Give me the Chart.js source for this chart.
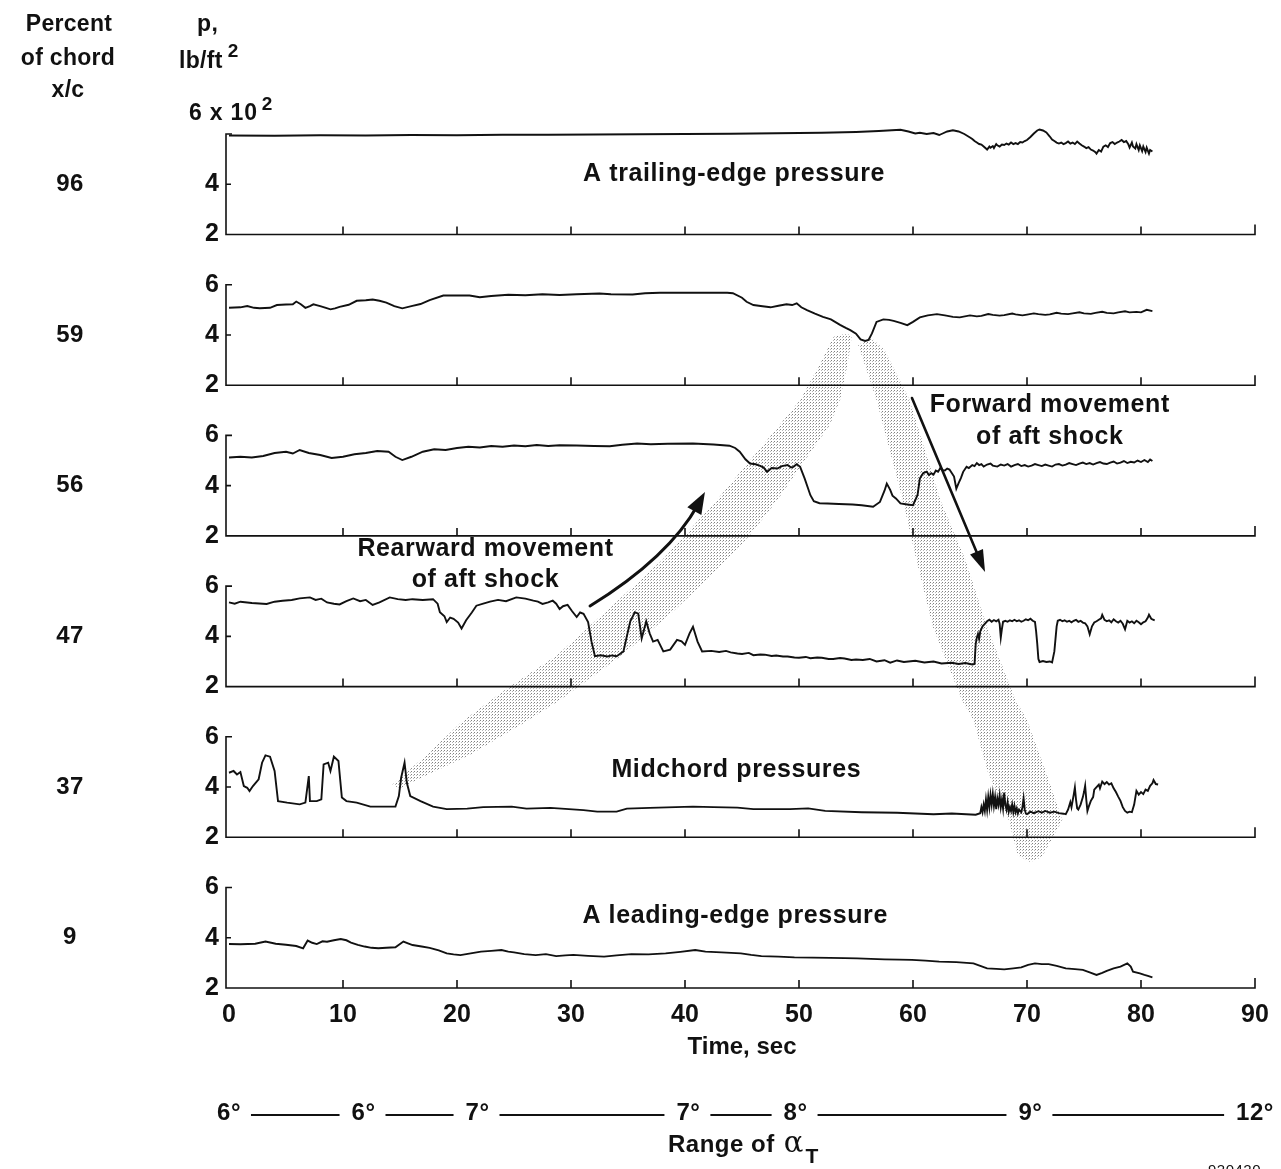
<!DOCTYPE html>
<html>
<head>
<meta charset="utf-8">
<title>Surface pressures vs time</title>
<style>
  html, body { margin: 0; padding: 0; background: #ffffff; }
  canvas { display: block; }
</style>
<script src="https://cdn.jsdelivr.net/npm/chart.js@4.4.1/dist/chart.umd.min.js"></script>
</head>
<body>
<canvas id="chart" width="1281" height="1169"></canvas>
<script>
// ---------------- data ----------------
// Pressure traces, [time in sec, p in units of 10^2 lb/ft^2], one list per chord station.
const chordStations = ['96', '59', '56', '47', '37', '9'];

const p96 = [[0,5.94],[4,5.93],[8,5.95],[12,5.94],[16,5.96],[20,5.95],[24,5.97],[28,5.97],[32,5.98],[36,5.99],[40,6.0],
  [44,6.01],[48,6.03],[52,6.05],[55,6.08],[57,6.12],[58.9,6.17],[59.6,6.1],[60.2,6.02],[60.6,6.05],[61.2,6.0],[61.8,6.04],
  [62.3,5.96],[62.6,6.02],[63.0,6.1],[63.5,6.15],[64.0,6.1],[64.5,6.0],
  [65.0,5.86],[65.2,5.8],[65.4,5.72],[65.6,5.66],[65.8,5.6],[66.0,5.58],[66.2,5.5],[66.4,5.42],[66.5,5.38],[66.7,5.5],
  [66.8,5.45],[67.0,5.52],[67.1,5.44],[67.3,5.6],[67.4,5.55],[67.6,5.5],[67.8,5.58],[68.0,5.56],[68.2,5.62],[68.4,5.58],
  [68.6,5.66],[68.8,5.6],[69.0,5.64],[69.2,5.6],[69.4,5.68],[69.6,5.66],[69.8,5.72],[70.0,5.76],[70.3,5.88],[70.6,6.02],
  [70.9,6.14],[71.1,6.18],[71.4,6.14],[71.7,6.06],[72.0,5.9],[72.2,5.78],[72.4,5.72],[72.6,5.66],[72.8,5.62],[73.0,5.66],
  [73.2,5.6],[73.4,5.64],[73.6,5.7],[73.8,5.62],[74.0,5.66],[74.2,5.6],[74.4,5.7],[74.6,5.62],[74.8,5.55],[75.0,5.5],
  [75.2,5.44],[75.4,5.48],[75.6,5.38],[75.8,5.34],[76.0,5.28],[76.1,5.22],[76.3,5.36],[76.5,5.3],[76.7,5.5],[76.9,5.55],
  [77.1,5.48],[77.3,5.64],[77.5,5.68],[77.7,5.6],[77.9,5.66],[78.1,5.7],[78.3,5.76],[78.5,5.68],[78.7,5.72],[78.9,5.58],
  [79.0,5.46],[79.2,5.66],[79.3,5.5],[79.5,5.42],[79.6,5.6],[79.8,5.36],[79.9,5.55],[80.1,5.32],[80.2,5.5],[80.4,5.28],
  [80.5,5.46],[80.7,5.22],[80.8,5.36],[81.0,5.3]];

const p59 = [[0,5.08],[1.0,5.1],[1.6,5.15],[2.2,5.08],[2.7,5.06],[3.6,5.08],[4.2,5.19],[5.0,5.21],[5.6,5.22],[5.9,5.33],
  [6.3,5.22],[6.7,5.08],[7.1,5.15],[7.4,5.22],[8.0,5.15],[8.5,5.08],[8.9,5.02],[9.3,5.06],[9.7,5.12],[10.5,5.2],[11.2,5.36],
  [12.0,5.38],[12.6,5.41],[13.2,5.36],[13.8,5.29],[14.5,5.15],[15.2,5.06],[16.0,5.15],[16.8,5.23],[17.6,5.39],[18.8,5.57],
  [20,5.57],[21.1,5.57],[22.0,5.5],[23,5.55],[24.5,5.6],[26,5.58],[27.5,5.62],[29,5.59],[30.5,5.62],[32.5,5.65],[33.5,5.62],
  [35.4,5.61],[36.5,5.66],[37.8,5.68],[40,5.68],[42,5.68],[43.7,5.68],[44.2,5.66],[45.0,5.48],[45.4,5.32],[46,5.19],
  [46.8,5.14],[47.5,5.1],[48.2,5.16],[48.9,5.22],[49.4,5.19],[49.8,5.26],[50.2,5.1],[50.7,4.99],[51.4,4.85],[52.1,4.72],
  [52.8,4.62],[53.6,4.4],[54.1,4.28],[54.5,4.19],[55.0,4.05],[55.4,3.82],[55.8,3.76],[56.1,3.8],[56.4,4.06],[56.8,4.52],
  [57.4,4.62],[57.9,4.6],[58.3,4.56],[58.9,4.48],[59.5,4.39],[60,4.52],[60.6,4.7],[61.3,4.78],[62.1,4.83],[62.8,4.78],
  [63.5,4.72],[64.1,4.7],[65,4.78],[65.6,4.74],[66,4.76],[66.6,4.83],[67,4.8],[67.6,4.77],[68,4.79],[68.7,4.85],[69,4.82],
  [69.6,4.78],[70,4.81],[70.6,4.86],[71,4.83],[71.6,4.8],[72,4.82],[72.6,4.88],[73,4.85],[73.6,4.83],[74,4.86],[74.6,4.9],
  [75,4.86],[75.6,4.84],[76,4.88],[76.6,4.92],[77,4.88],[77.6,4.86],[78,4.9],[78.6,4.94],[79,4.9],[79.6,4.92],[80,4.9],
  [80.5,5.0],[81,4.95]];

const p56 = [[0,5.12],[1,5.15],[2,5.12],[3,5.18],[4,5.3],[5,5.35],[5.6,5.28],[6.2,5.42],[7,5.3],[8,5.22],[9,5.1],[10,5.15],
  [11,5.25],[12,5.3],[13,5.38],[14,5.35],[14.6,5.15],[15.2,5.02],[16,5.15],[17,5.35],[18,5.45],[19,5.42],[20,5.5],[21,5.55],
  [22,5.52],[23,5.58],[24,5.55],[25,5.6],[26,5.57],[27,5.62],[28,5.58],[29,5.61],[30.5,5.6],[32,5.58],[33.4,5.57],
  [34.5,5.63],[35.8,5.68],[37,5.65],[38.5,5.67],[40.7,5.68],[42.5,5.64],[43.9,5.59],[44.4,5.5],[44.8,5.35],[45.3,5.05],
  [45.7,4.88],[46.2,4.85],[46.6,4.79],[46.9,4.72],[47.2,4.55],[47.6,4.7],[48.1,4.68],[48.5,4.78],[49,4.82],[49.3,4.72],
  [49.5,4.75],[49.8,4.85],[50.1,4.75],[50.5,4.28],[51,3.62],[51.3,3.38],[51.8,3.3],[52.5,3.29],[53.5,3.27],[54.7,3.25],
  [55.5,3.22],[56.5,3.16],[57.1,3.35],[57.5,3.8],[57.7,4.08],[58.0,3.83],[58.2,3.6],[58.5,3.49],[58.9,3.29],[59.5,3.25],
  [60,3.22],[60.4,3.63],
  [60.6,4.28],[60.9,4.5],[61.2,4.56],[61.4,4.42],[61.6,4.5],[61.8,4.44],[62.0,4.6],[62.2,4.55],[62.4,4.7],[62.6,4.62],
  [62.8,4.6],[63.0,4.68],[63.2,4.64],[63.4,4.5],[63.6,4.36],[63.8,3.88],[64.0,4.1],[64.2,4.3],[64.4,4.55],[64.7,4.75],
  [64.9,4.7],[65.2,4.82],[65.4,4.78],[65.6,4.9],[65.8,4.82],[66.0,4.86],[66.2,4.76],[66.5,4.84],[66.8,4.88],[67.0,4.8],
  [67.4,4.76],[67.7,4.84],[68,4.8],[68.3,4.86],[68.6,4.76],[68.9,4.82],[69.2,4.86],[69.5,4.78],[69.8,4.82],[70.1,4.76],
  [70.4,4.8],[70.7,4.86],[71,4.82],[71.3,4.78],[71.6,4.84],[71.9,4.8],[72.2,4.76],[72.5,4.84],[72.8,4.86],[73.1,4.8],
  [73.4,4.84],[73.7,4.9],[74,4.86],[74.3,4.82],[74.6,4.88],[74.9,4.92],[75.2,4.86],[75.5,4.9],[75.8,4.84],[76.1,4.9],
  [76.4,4.94],[76.7,4.88],[77,4.86],[77.3,4.92],[77.6,4.96],[77.9,4.88],[78.2,4.92],[78.5,4.98],[78.8,4.9],[79.1,4.95],
  [79.4,4.92],[79.7,5.0],[80,4.94],[80.3,5.02],[80.6,4.94],[80.8,5.04],[81,4.98]];

const p47 = [[0,5.35],[0.5,5.3],[1,5.38],[2,5.33],[3.3,5.29],[4,5.38],[4.7,5.42],[5.5,5.45],[6.2,5.51],[7.1,5.55],[7.6,5.45],
  [8.1,5.5],[8.6,5.35],[9.2,5.3],[9.7,5.27],[10.3,5.4],[10.9,5.51],[11.5,5.4],[12,5.45],[12.6,5.25],[13.2,5.35],[14.1,5.55],
  [14.8,5.48],[15.5,5.45],[16.1,5.48],[17,5.45],[17.9,5.48],[18.3,5.3],[18.5,4.96],[18.9,4.8],[19.1,4.57],[19.4,4.75],
  [19.7,4.7],[20.1,4.55],[20.4,4.31],[20.8,4.64],[21.3,4.95],[21.7,5.22],[22.3,5.3],[22.9,5.38],[23.6,5.45],[24.3,5.4],
  [25.2,5.55],[26,5.5],[26.7,5.42],[27.1,5.38],[27.5,5.29],[28,5.35],[28.4,5.42],[28.7,5.3],[29,5.09],[29.3,5.2],[29.7,5.25],
  [30.1,5.0],[30.5,4.77],[30.8,4.95],[31.1,4.9],[31.5,4.57],[31.8,3.79],[32.1,3.21],[32.6,3.25],[33.2,3.2],[33.6,3.24],
  [34,3.21],[34.6,3.4],[35.0,4.2],[35.2,4.6],[35.6,4.96],[35.9,4.9],[36.2,3.92],[36.6,4.6],[36.9,4.12],[37.2,3.79],
  [37.6,3.86],[38.1,3.4],[38.7,3.47],[39.3,3.86],[39.7,3.8],[40.0,3.66],[40.4,4.12],[40.7,4.38],[41.1,3.79],[41.5,3.4],
  [42.3,3.42],[43,3.38],[43.6,3.42],[44,3.36],[44.6,3.32],[45,3.3],[45.6,3.34],[46,3.25],[46.6,3.28],[47,3.27],[47.6,3.22],
  [48,3.24],[48.6,3.2],[49,3.2],[49.6,3.16],[50,3.15],[50.6,3.18],[51,3.13],[51.6,3.16],[52,3.15],[52.6,3.1],[53,3.1],
  [53.6,3.14],[54,3.12],[54.6,3.06],[55,3.08],[55.6,3.06],[56.2,3.1],[56.8,3.0],[57.5,3.05],[58,2.95],[58.6,3.04],
  [59.2,2.98],[60.2,3.03],[61,2.96],[61.8,3.0],[62.5,2.92],[63.4,2.95],[64,2.9],[64.6,2.94],[65.2,2.88],[65.4,2.9],
  [65.5,3.7],[65.6,3.95],[65.7,4.1],[65.8,3.9],[65.9,4.2],[66.1,4.4],[66.3,4.5],[66.5,4.6],[66.7,4.66],[66.9,4.58],
  [67.1,4.65],[67.3,4.6],[67.5,4.66],[67.6,4.5],[67.7,3.95],[67.8,4.3],[67.9,4.58],[68.1,4.62],[68.3,4.58],[68.5,4.64],
  [68.7,4.6],[68.9,4.66],[69.1,4.6],[69.3,4.64],[69.5,4.58],[69.7,4.62],[69.9,4.68],[70.1,4.64],[70.3,4.7],[70.5,4.62],
  [70.7,4.58],[70.8,4.2],[70.9,3.7],[71.0,3.1],[71.1,2.98],[71.4,3.02],[71.7,2.98],[72.0,3.0],[72.2,2.96],[72.4,3.4],
  [72.5,3.9],[72.6,4.4],[72.7,4.62],[72.9,4.66],[73.1,4.6],[73.3,4.64],[73.5,4.58],[73.7,4.62],[73.9,4.56],[74.1,4.62],
  [74.3,4.66],[74.5,4.58],[74.7,4.62],[74.9,4.55],[75.1,4.52],[75.3,4.4],[75.5,4.08],[75.7,4.4],[75.9,4.55],[76.1,4.6],
  [76.3,4.66],[76.5,4.72],[76.6,4.86],[76.8,4.66],[77.0,4.6],[77.2,4.64],[77.4,4.56],[77.6,4.68],[77.8,4.6],[78.0,4.55],
  [78.2,4.62],[78.4,4.5],[78.6,4.28],[78.7,4.45],[78.8,4.62],[79.0,4.55],[79.2,4.6],[79.4,4.52],[79.6,4.62],[79.8,4.56],
  [80.0,4.48],[80.2,4.56],[80.4,4.6],[80.6,4.75],[80.7,4.86],[80.9,4.7],[81.0,4.68],[81.2,4.64]];

const p37 = [[0,4.57],[0.4,4.64],[0.7,4.5],[1.0,4.6],[1.3,4.04],[1.6,3.97],[1.8,3.84],[2.1,4.04],[2.6,4.31],[2.9,4.97],
  [3.2,5.26],[3.6,5.21],[4.0,4.64],[4.3,3.44],[5.1,3.38],[6.2,3.31],[6.7,3.38],[7.0,4.44],[7.1,3.44],[7.7,3.44],[8.1,3.51],
  [8.3,4.9],[8.7,4.97],[8.9,4.64],[9.2,5.21],[9.6,5.04],[9.9,3.58],[10.3,3.44],[11.2,3.38],[12.4,3.22],[14.6,3.22],
  [14.9,3.64],[15.1,4.37],[15.4,4.97],[15.6,4.17],[15.9,3.64],[16.8,3.44],[17.9,3.22],[19.1,3.12],[20.9,3.14],[22.3,3.2],
  [24.8,3.22],[26.1,3.14],[28.2,3.17],[31.1,3.08],[32.3,3.02],[34,3.02],[34.9,3.14],[36.9,3.17],[40.7,3.22],[42.5,3.2],
  [44.6,3.18],[46,3.12],[49.2,3.12],[50.8,3.15],[52.3,3.05],[55.5,3.0],[58.6,2.98],[61.8,2.92],[63.4,2.95],[65.5,2.9],
  [65.9,2.96],[66.0,3.2],[66.1,3.0],[66.2,3.3],[66.3,3.05],[66.4,3.5],[66.5,3.1],[66.6,3.6],[66.7,3.2],[66.8,3.68],
  [66.9,3.3],[67.0,3.72],[67.1,3.25],[67.2,3.6],[67.3,3.12],[67.4,3.55],[67.5,3.3],[67.6,3.66],[67.7,3.2],[67.8,3.5],
  [67.9,3.15],[68.0,3.78],[68.1,3.3],[68.2,3.1],[68.3,3.4],[68.4,3.02],[68.5,3.2],[68.6,3.05],[68.7,3.3],[68.8,3.0],
  [68.9,3.25],[69.0,3.0],[69.1,3.15],[69.2,2.95],[69.3,3.1],[69.5,3.0],[69.6,3.2],[69.7,3.55],[69.8,3.1],[69.9,2.95],
  [70.0,2.92],[70.3,3.02],[70.6,2.96],[71.0,3.04],[71.3,2.98],[71.6,3.05],[72.0,2.98],[72.4,3.02],[72.8,2.96],[73.2,2.94],
  [73.4,2.92],[73.6,3.1],[73.8,3.4],[73.9,3.2],[74.1,3.7],[74.2,3.98],[74.3,3.5],[74.4,3.15],[74.5,3.1],[74.7,3.3],
  [74.9,3.6],[75.0,3.8],[75.1,4.05],[75.2,3.5],[75.3,3.05],[75.4,3.2],[75.6,3.45],[75.8,3.6],[75.9,3.9],[76.1,4.0],
  [76.3,4.1],[76.4,3.95],[76.6,4.22],[76.8,4.12],[77.0,4.2],[77.2,4.1],[77.4,4.15],[77.6,3.95],[77.8,3.8],[78.0,3.62],
  [78.2,3.45],[78.4,3.2],[78.6,3.05],[78.8,2.98],[79.0,3.02],[79.2,3.0],[79.4,3.3],[79.6,3.85],[79.8,3.7],[80.0,3.8],
  [80.2,3.72],[80.4,3.9],[80.6,3.85],[80.8,4.05],[81.0,4.15],[81.1,4.28],[81.3,4.12],[81.5,4.1]];

const p9 = [[0,3.75],[1,3.74],[2.3,3.76],[3.2,3.85],[4.1,3.76],[5,3.72],[5.9,3.67],[6.5,3.58],[6.9,3.89],[7.3,3.8],[7.7,3.75],
  [8.2,3.86],[8.6,3.84],[9.2,3.9],[9.8,3.95],[10.3,3.9],[10.7,3.81],[11.3,3.72],[11.9,3.65],[12.5,3.6],[13.1,3.58],[13.8,3.6],
  [14.6,3.62],[15.3,3.85],[15.7,3.78],[16.1,3.71],[16.9,3.65],[17.6,3.6],[18.4,3.5],[19.1,3.38],[19.7,3.34],[20.3,3.31],
  [21.2,3.38],[22.1,3.45],[23,3.48],[23.9,3.51],[24.5,3.45],[25,3.42],[25.9,3.35],[26.9,3.31],[27.8,3.35],[28.7,3.27],
  [29.5,3.3],[30.2,3.32],[31.5,3.28],[32.9,3.25],[34,3.3],[35.3,3.35],[36.8,3.34],[38.3,3.38],[39.6,3.44],[40.9,3.51],
  [41.8,3.45],[43.2,3.42],[44.9,3.38],[45.8,3.32],[46.7,3.27],[48.2,3.25],[49.6,3.22],[51.2,3.21],[52.7,3.2],[54,3.19],
  [55.1,3.18],[56.3,3.16],[57.5,3.14],[58.8,3.13],[59.9,3.12],[61.1,3.09],[62.3,3.05],[63.8,3.03],[65.3,2.98],[65.9,2.88],
  [66.5,2.78],[67.3,2.76],[68.0,2.74],[68.8,2.78],[69.5,2.82],[70.1,2.92],[70.7,2.98],[71.3,2.95],[71.9,2.95],[72.6,2.88],
  [73.4,2.78],[74.2,2.75],[74.9,2.72],[75.5,2.62],[76.1,2.52],[76.6,2.6],[77.0,2.68],[77.6,2.78],[78.2,2.85],[78.8,2.98],
  [79.1,2.85],[79.3,2.65],[79.9,2.58],[80.3,2.52],[80.6,2.48],[81.0,2.42]];

const seriesList = [p96, p59, p56, p47, p37, p9];

// Axis ticks
const timeTicks = [0, 10, 20, 30, 40, 50, 60, 70, 80, 90];
const pressureTicks = [2, 4, 6];

// Angle-of-attack schedule written under the time axis
const alphaLabels = ['6°', '6°', '7°', '7°', '8°', '9°', '12°'];

// ---------------- layout ----------------
const FONT = "'Liberation Sans', Arial, Helvetica, sans-serif";
const PANEL_STEP = 6;             // each strip spans p = 2..6 plus a gap of 2
const Y_AXIS_W = 40;
const X_AXIS_H = 76;
const PLOT = { left: 229, right: 1255, top: 134, bottom: 988 };
const offsetOf = i => (seriesList.length - 1 - i) * PANEL_STEP;

// time positions of the alpha labels
const alphaAt = [0, 11.8, 21.8, 40.3, 49.7, 70.3, 90];

// shaded shock-travel bands, [time, stacked p]
const rearBand = [[14.3,10.08],[17.6,11.39],[20.4,12.59],[24.2,13.86],[28.8,15.26],[33.4,17.13],[38.0,19.04],[42.8,21.43],
  [47.7,24.09],[50.1,25.41],[51.8,26.8],[53.0,27.92],[54.0,28.05],[54.65,28.0],[54.3,26.92],[53.6,25.41],[52.7,24.41],
  [50.1,22.74],[48.1,21.43],[45.7,20.04],[43.7,19.04],[39.1,17.05],[34.5,15.26],[29.0,13.46],[26.0,12.59],[21.1,11.28],
  [15.9,10.16],[15.0,9.95]];
const foreBand = [[55.2,27.6],[56.8,25.41],[59.1,21.43],[60.3,19.04],[61.75,16.37],[64.3,13.46],[65.3,12.67],[66.5,10.68],
  [68.4,8.69],[69.2,7.29],[70.3,7.02],[71.3,7.22],[73.1,8.69],[71.6,10.68],[70.0,12.67],[69.0,13.46],[66.5,16.37],
  [64.6,19.04],[62.4,21.43],[59.7,25.41],[57.5,27.4],[56.3,27.9]];

// arrows: start, control, end in [time, stacked p]
const rearArrow = { from: [31.67, 17.21], ctrl: [38.6, 19.15], to: [41.75, 21.75] };
const foreArrow = { from: [59.91, 25.49], to: [66.32, 18.56] };

const notes = [
  { text: 'A trailing-edge pressure', at: [44.3, 34.4] },
  { text: 'Midchord pressures', at: [44.5, 10.68] },
  { text: 'A leading-edge pressure', at: [44.4, 4.87] },
  { text: 'Forward movement', at: [72.0, 25.21] },
  { text: 'of aft shock', at: [72.0, 23.93] },
  { text: 'Rearward movement', at: [22.5, 19.48] },
  { text: 'of aft shock', at: [22.5, 18.24] }
];

// ---------------- helpers ----------------
function drawText(ctx, str, x, y, opt = {}) {
  const size = opt.size || 24;
  ctx.save();
  ctx.font = (opt.weight || 'bold') + ' ' + size + 'px ' + (opt.family || FONT);
  ctx.fillStyle = opt.color || '#111';
  ctx.textAlign = opt.align || 'center';
  ctx.textBaseline = opt.baseline || 'middle';
  if ('letterSpacing' in ctx) ctx.letterSpacing = (opt.spacing === undefined ? 0.5 : opt.spacing) + 'px';
  ctx.fillText(str, x, y);
  const w = ctx.measureText(str).width;
  ctx.restore();
  return w;
}

function stipple(ctx) {
  const c = document.createElement('canvas');
  c.width = 3; c.height = 3;
  const g = c.getContext('2d');
  g.fillStyle = '#808080'; g.fillRect(0, 0, 1, 1);
  g.fillStyle = '#b8b8b8'; g.fillRect(2, 1, 1, 1);
  return ctx.createPattern(c, 'repeat');
}

function arrowHead(ctx, x, y, ang, len, half) {
  const bx = x - len * Math.cos(ang), by = y - len * Math.sin(ang);
  ctx.beginPath();
  ctx.moveTo(x, y);
  ctx.lineTo(bx + half * Math.sin(ang), by - half * Math.cos(ang));
  ctx.lineTo(bx - half * Math.sin(ang), by + half * Math.cos(ang));
  ctx.closePath();
  ctx.fill();
}

// ---------------- plugins ----------------
const stripFrames = {
  id: 'stripFrames',
  beforeDatasetsDraw(chart) {
    const { ctx, scales: { x, y } } = chart;
    const P = ([t, v]) => [x.getPixelForValue(t), y.getPixelForValue(v)];

    // stippled shock-travel bands
    ctx.save();
    ctx.fillStyle = stipple(ctx);
    [rearBand, foreBand].forEach(band => {
      ctx.beginPath();
      band.forEach((pt, k) => { const [px, py] = P(pt); k ? ctx.lineTo(px, py) : ctx.moveTo(px, py); });
      ctx.closePath();
      ctx.fill();
    });
    ctx.restore();

    // one frame per strip: left axis with ticks, bottom axis with upward ticks
    ctx.save();
    ctx.strokeStyle = '#111';
    ctx.lineWidth = 1.6;
    const x0 = x.getPixelForValue(timeTicks[0]) - 3;
    const xEnd = x.getPixelForValue(timeTicks[timeTicks.length - 1]);
    seriesList.forEach((s, i) => {
      const off = offsetOf(i);
      const yTop = y.getPixelForValue(pressureTicks[2] + off);
      const yMid = y.getPixelForValue(pressureTicks[1] + off);
      const yBot = y.getPixelForValue(pressureTicks[0] + off);
      ctx.beginPath();
      ctx.moveTo(x0 + 6, yTop);
      ctx.lineTo(x0, yTop);
      ctx.lineTo(x0, yBot);
      ctx.lineTo(xEnd, yBot);
      ctx.lineTo(xEnd, yBot - 10);
      ctx.moveTo(x0, yMid);
      ctx.lineTo(x0 + 5, yMid);
      timeTicks.slice(1, -1).forEach(t => {
        const px = x.getPixelForValue(t);
        ctx.moveTo(px, yBot);
        ctx.lineTo(px, yBot - 8);
      });
      ctx.stroke();
    });
    ctx.restore();
  },
  afterDatasetsDraw(chart) {
    const { ctx, scales: { x, y } } = chart;
    const P = ([t, v]) => [x.getPixelForValue(t), y.getPixelForValue(v)];

    // arrows
    ctx.save();
    ctx.strokeStyle = '#111';
    ctx.fillStyle = '#111';
    ctx.lineCap = 'round';
    {
      const [ax, ay] = P(rearArrow.from), [cx, cy] = P(rearArrow.ctrl), [bx, by] = P(rearArrow.to);
      const ang = Math.atan2(by - cy, bx - cx);
      ctx.lineWidth = 3;
      ctx.beginPath();
      ctx.moveTo(ax, ay);
      ctx.quadraticCurveTo(cx, cy, bx - 14 * Math.cos(ang), by - 14 * Math.sin(ang));
      ctx.stroke();
      arrowHead(ctx, bx, by, ang, 22, 8);
    }
    {
      const [ax, ay] = P(foreArrow.from), [bx, by] = P(foreArrow.to);
      const ang = Math.atan2(by - ay, bx - ax);
      ctx.lineWidth = 2.6;
      ctx.beginPath();
      ctx.moveTo(ax, ay);
      ctx.lineTo(bx - 14 * Math.cos(ang), by - 14 * Math.sin(ang));
      ctx.stroke();
      arrowHead(ctx, bx, by, ang, 22, 7);
    }
    ctx.restore();

    // annotations inside the plot
    notes.forEach(n => { const [px, py] = P(n.at); drawText(ctx, n.text, px, py, { size: 25, spacing: 0.6 }); });

    // chord-station labels and strip headings
    seriesList.forEach((s, i) => {
      drawText(ctx, chordStations[i], 70, y.getPixelForValue(pressureTicks[1] + offsetOf(i)), { size: 24, spacing: 0.5 });
    });
    drawText(ctx, 'Percent', 69, 31, { size: 23, baseline: 'alphabetic', spacing: 0.3 });
    drawText(ctx, 'of chord', 68, 65, { size: 23, baseline: 'alphabetic', spacing: 0.3 });
    drawText(ctx, 'x/c', 68, 97, { size: 23, baseline: 'alphabetic', spacing: 0.3 });
    drawText(ctx, 'p,', 197, 31, { size: 23, baseline: 'alphabetic', align: 'left', spacing: 0.5 });
    const wl = drawText(ctx, 'lb/ft', 179, 68, { size: 23, baseline: 'alphabetic', align: 'left', spacing: 0.3 });
    drawText(ctx, '2', 179 + wl + 5, 57, { size: 19, baseline: 'alphabetic', align: 'left', spacing: 0 });

    // scale factor on the top strip
    const yTop = y.getPixelForValue(pressureTicks[2] + offsetOf(0));
    const w6 = drawText(ctx, '6 x 10', 189, yTop - 14, { size: 23, baseline: 'alphabetic', align: 'left', spacing: 0.8 });
    drawText(ctx, '2', 189 + w6 + 4, yTop - 24, { size: 19, baseline: 'alphabetic', align: 'left', spacing: 0 });

    // angle-of-attack range under the time axis
    const rowY = 1113;
    const spans = alphaLabels.map((lab, k) => {
      const cx = x.getPixelForValue(alphaAt[k]);
      const w = drawText(ctx, lab, cx, rowY, { size: 24, spacing: 0.5 });
      return [cx - w / 2, cx + w / 2];
    });
    ctx.save();
    ctx.strokeStyle = '#111';
    ctx.lineWidth = 2;
    for (let k = 0; k < spans.length - 1; k++) {
      ctx.beginPath();
      ctx.moveTo(spans[k][1] + 10, rowY + 2);
      ctx.lineTo(spans[k + 1][0] - 12, rowY + 2);
      ctx.stroke();
    }
    ctx.restore();

    // "Range of alpha_T"
    const wr = drawText(ctx, 'Range of ', 668, 1152, { size: 24, align: 'left', baseline: 'alphabetic', spacing: 0.5 });
    const wa = drawText(ctx, 'α', 668 + wr + 2, 1152, { size: 29, weight: 'normal', family: "'DejaVu Serif', serif", align: 'left', baseline: 'alphabetic', spacing: 0 });
    drawText(ctx, 'T', 668 + wr + 2 + wa + 2, 1163, { size: 21, align: 'left', baseline: 'alphabetic', spacing: 0 });

    // figure number
    drawText(ctx, '920420', 1208, 1175, { size: 15, weight: 'normal', align: 'left', baseline: 'alphabetic', spacing: 0.5 });
  }
};

// ---------------- chart ----------------
const datasets = seriesList.map((s, i) => ({
  label: chordStations[i] + ' percent chord',
  data: s.map(([t, v]) => ({ x: t, y: v + offsetOf(i) })),
  borderColor: '#111',
  borderWidth: 1.9,
  pointRadius: 0,
  tension: 0,
  fill: false,
  clip: false
}));

new Chart(document.getElementById('chart').getContext('2d'), {
  type: 'line',
  data: { datasets },
  options: {
    responsive: false,
    animation: false,
    devicePixelRatio: 1,
    layout: {
      padding: {
        left: PLOT.left - Y_AXIS_W,
        right: 1281 - PLOT.right,
        top: PLOT.top,
        bottom: 1169 - PLOT.bottom - X_AXIS_H
      }
    },
    plugins: { legend: { display: false }, tooltip: { enabled: false } },
    scales: {
      x: {
        type: 'linear',
        min: timeTicks[0],
        max: timeTicks[timeTicks.length - 1],
        grid: { display: false, drawTicks: false },
        border: { display: false },
        afterBuildTicks: scale => { scale.ticks = timeTicks.map(v => ({ value: v })); },
        ticks: { color: '#111', autoSkip: false, maxRotation: 0, padding: 12,
                 font: { family: FONT, size: 25, weight: 'bold' } },
        title: { display: true, text: 'Time, sec', color: '#111', padding: { top: 0, bottom: 2 },
                 font: { family: FONT, size: 24, weight: 'bold' } },
        afterFit: scale => { scale.height = X_AXIS_H; }
      },
      y: {
        type: 'linear',
        min: 2,
        max: PANEL_STEP * (seriesList.length - 1) + pressureTicks[2],
        grid: { display: false, drawTicks: false },
        border: { display: false },
        afterBuildTicks: scale => {
          const ticks = [];
          seriesList.forEach((s, i) => pressureTicks.forEach(p => ticks.push({ value: p + offsetOf(i) })));
          scale.ticks = ticks.sort((a, b) => a.value - b.value);
        },
        ticks: {
          color: '#111', autoSkip: false, padding: 10,
          font: { family: FONT, size: 25, weight: 'bold' },
          // each strip reads 2, 4, 6; the top label of the top strip carries the scale factor instead
          callback: v => (v === PANEL_STEP * (seriesList.length - 1) + pressureTicks[2]) ? '' : String(((v - 2) % PANEL_STEP) + 2)
        },
        afterFit: scale => { scale.width = Y_AXIS_W; }
      }
    }
  },
  plugins: [stripFrames]
});
</script>
</body>
</html>
